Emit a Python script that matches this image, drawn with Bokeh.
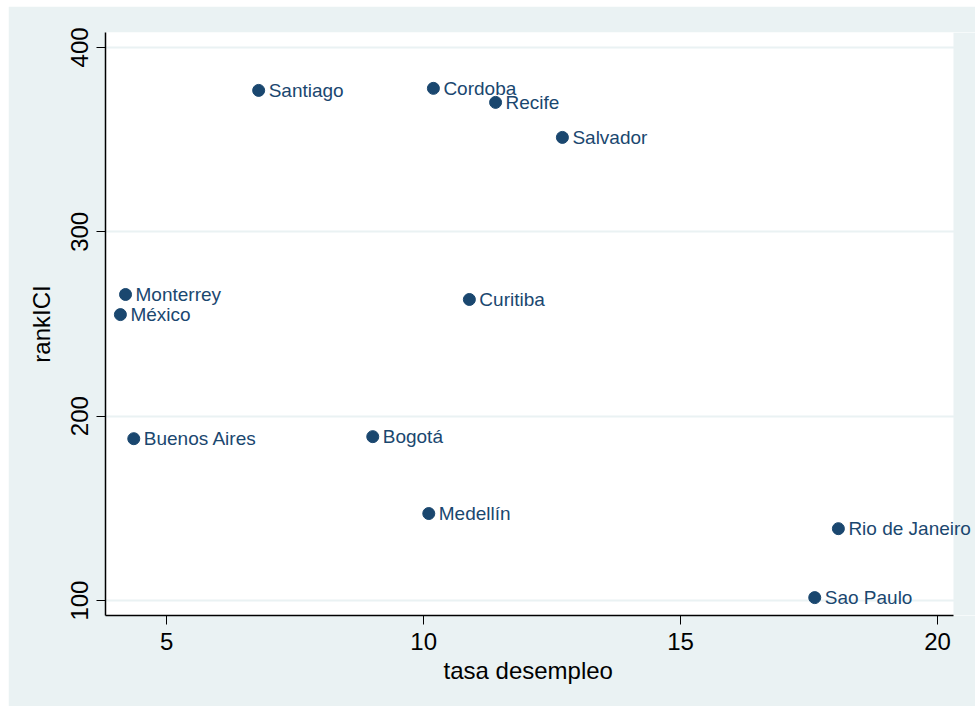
from bokeh.plotting import figure
from bokeh.models import ColumnDataSource, Range1d, FixedTicker, Label, Spacer, BoxAnnotation, Title
from bokeh.layouts import column, row
from bokeh.embed import file_html
from bokeh.resources import INLINE

cities = ["Santiago", "Cordoba", "Recife", "Salvador", "Monterrey", "México",
          "Curitiba", "Buenos Aires", "Bogotá", "Medellín", "Rio de Janeiro", "Sao Paulo"]
desempleo = [6.79, 10.19, 11.40, 12.70, 4.20, 4.10, 10.89, 4.36, 9.01, 10.10, 18.07, 17.61]
rankICI = [376.7, 377.8, 370.2, 351.2, 266.0, 255.1, 263.3, 187.8, 188.9, 147.2, 139.0, 101.6]
x_ticks = [5, 10, 15, 20]
y_ticks = [100, 200, 300, 400]
x_title = "tasa desempleo"
y_title = "rankICI"

NAVY = "#1a476f"
BG = "#eaf2f3"
FONT = "Liberation Sans"

X_LO, X_HI = 3.81, 20.31      # plot region in data units
X_VIEW_HI = 20.738           # extra room so outside labels are not clipped
Y_LO, Y_HI = 91.9, 408.1

src = ColumnDataSource(dict(x=desempleo, y=rankICI, name=cities))

p = figure(width=967, height=700, output_backend="svg", toolbar_location=None,
           x_range=Range1d(X_LO, X_VIEW_HI), y_range=Range1d(Y_LO, Y_HI),
           min_border_left=97, min_border_top=26, min_border_right=0, min_border_bottom=91)
p.background_fill_color = "white"
p.border_fill_color = BG
p.outline_line_color = None

# strip right of the plot region shares the outer background colour
p.add_layout(BoxAnnotation(left=X_HI, fill_color=BG, fill_alpha=1, line_color=None, level="underlay"))

p.scatter("x", "y", source=src, size=12, fill_color=NAVY, line_color=NAVY)
for cx, cy, nm in zip(desempleo, rankICI, cities):
    p.add_layout(Label(x=cx, y=cy, text=nm, x_offset=10, y_offset=0,
                       text_baseline="middle", text_align="left", text_color=NAVY,
                       text_font=FONT, text_font_size="19px"))

p.xgrid.grid_line_color = None
p.ygrid.grid_line_color = BG
p.ygrid.grid_line_width = 2
p.ygrid.ticker = FixedTicker(ticks=y_ticks)

for ax in (p.xaxis, p.yaxis):
    ax.axis_line_color = "black"
    ax.axis_line_width = 1.5
    ax.major_tick_line_color = "black"
    ax.major_tick_line_width = 1
    ax.major_tick_out = 9
    ax.major_tick_in = 0
    ax.minor_tick_line_color = None
    ax.major_label_text_font = FONT
    ax.major_label_text_font_size = "24px"
    ax.major_label_text_color = "black"
    ax.axis_label_text_font = FONT
    ax.axis_label_text_font_size = "24px"
    ax.axis_label_text_font_style = "normal"
    ax.axis_label_text_color = "black"

p.xaxis.bounds = (X_LO, X_HI)
p.xaxis.ticker = FixedTicker(ticks=x_ticks)
p.yaxis.ticker = FixedTicker(ticks=y_ticks)
p.yaxis.axis_label = y_title
p.yaxis.major_label_orientation = "vertical"
p.xaxis.major_label_standoff = 8
p.yaxis.major_label_standoff = 8
p.yaxis.axis_label_standoff = 14

# x title centred under the plot region (not under the extra strip)
p.add_layout(Title(text=x_title, align="left", offset=338, standoff=4,
                   text_font=FONT, text_font_size="24px", text_font_style="normal",
                   text_color="black"), "below")

layout = column(Spacer(height=6), row(Spacer(width=8), p))
open("out.html", "w").write(file_html(layout, INLINE))
